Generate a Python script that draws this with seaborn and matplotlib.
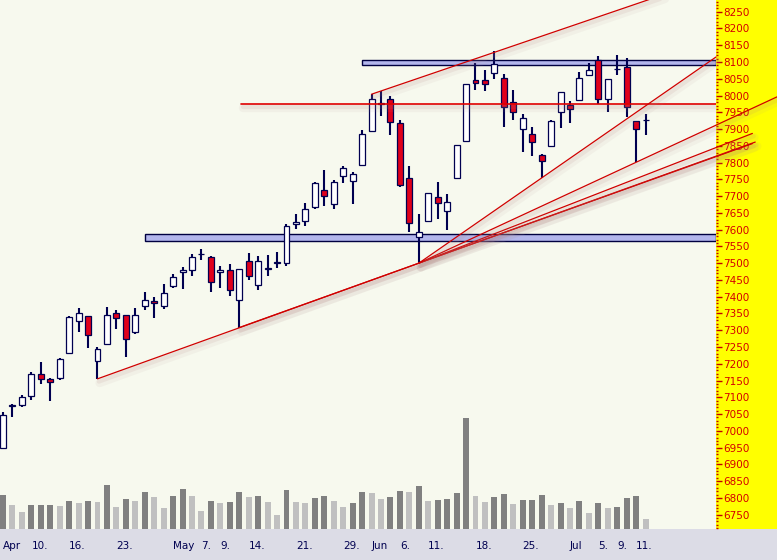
import numpy as np
import pandas as pd
import seaborn as sns
import matplotlib
import matplotlib.pyplot as plt
from matplotlib.patches import Rectangle
from matplotlib.ticker import MultipleLocator
from matplotlib import patheffects as pe

matplotlib.use('Agg')

# daily sessions, bar 0 = first session of April
opens = [6949, 7075, 7076, 7104, 7170, 7155, 7158, 7232, 7329, 7342,
         7208, 7258, 7351, 7345, 7295, 7372, 7387, 7372, 7432, 7474,
         7480, 7526, 7518, 7474, 7480, 7390, 7506, 7435, 7483, 7501,
         7501, 7617, 7626, 7667, 7718, 7676, 7760, 7745, 7793, 7894,
         7976, 7989, 7918, 7754, 7578, 7626, 7697, 7656, 7754, 7863,
         8046, 8046, 8067, 8052, 7980, 7900, 7885, 7822, 7849, 7951,
         7971, 7986, 8061, 8106, 7989, 8078, 8085, 7924, 7926]
highs = [7057, 7081, 7108, 7176, 7205, 7157, 7217, 7342, 7366, 7342,
         7250, 7369, 7360, 7345, 7366, 7415, 7399, 7438, 7467, 7489,
         7527, 7542, 7520, 7492, 7498, 7483, 7531, 7521, 7524, 7532,
         7617, 7647, 7679, 7742, 7779, 7748, 7790, 7772, 7897, 8004,
         8013, 7998, 7927, 7790, 7648, 7709, 7742, 7706, 7852, 8034,
         8097, 8076, 8132, 8064, 8016, 7945, 7906, 7826, 7927, 8010,
         7983, 8070, 8097, 8118, 8049, 8121, 8112, 7924, 7945]
lows = [6949, 7041, 7070, 7091, 7141, 7088, 7151, 7232, 7294, 7246,
        7155, 7256, 7304, 7220, 7288, 7360, 7337, 7363, 7426, 7423,
        7462, 7509, 7414, 7427, 7403, 7308, 7450, 7421, 7462, 7486,
        7492, 7602, 7611, 7662, 7670, 7662, 7739, 7678, 7793, 7891,
        7939, 7882, 7726, 7593, 7500, 7626, 7632, 7599, 7754, 7860,
        8016, 8013, 8049, 7906, 7927, 7831, 7820, 7754, 7849, 7903,
        7918, 7986, 8058, 7974, 7951, 8061, 7936, 7802, 7882]
closes = [7048, 7077, 7101, 7170, 7155, 7146, 7214, 7340, 7350, 7285,
          7244, 7345, 7337, 7274, 7345, 7390, 7381, 7411, 7459, 7480,
          7518, 7528, 7444, 7481, 7419, 7483, 7462, 7506, 7485, 7503,
          7611, 7623, 7662, 7739, 7700, 7742, 7784, 7766, 7885, 7989,
          7978, 7921, 7732, 7620, 7593, 7709, 7679, 7682, 7852, 8034,
          8037, 8034, 8094, 7966, 7951, 7933, 7861, 7805, 7924, 8010,
          7960, 8052, 8076, 7989, 8049, 8080, 7966, 7900, 7928]
volume = [34, 24, 17, 24, 24, 24, 23, 28, 26, 28,
          27, 44, 22, 30, 28, 37, 32, 21, 33, 40,
          33, 18, 28, 26, 27, 37, 32, 33, 27, 14,
          39, 27, 26, 31, 33, 28, 22, 26, 37, 36,
          30, 32, 38, 37, 43, 28, 29, 30, 36, 111,
          33, 27, 32, 35, 25, 29, 29, 34, 24, 26,
          21, 28, 16, 26, 21, 22, 31, 33, 10]

date_ticks = [0, 3, 7, 12, 18, 21, 23, 26, 31, 36, 39, 42, 45, 50, 55, 60, 63, 65, 67]
date_labels = ['Apr', '10.', '16.', '23.', 'May', '7.', '9.', '14.', '21.', '29.',
               'Jun', '6.', '11.', '18.', '25.', 'Jul', '5.', '9.', '11.']

# support / resistance zones: (from bar, low, high)
zones = [(15, 7567, 7587), (38, 8091, 8106)]
level = (25.2, 7975)
# trend lines: (bar a, price a, bar b, price b, end bar)
trend_lines = [
    (10, 7155, 44, 7500, 79.6),
    (25, 7308, 44, 7500, 79.3),
    (44, 7500, 79.3, 7887, 79.3),
    (44, 7500, 81.9, 7996, 81.9),
    (44, 7500, 75.45, 8115, 75.45),
    (39, 8004, 52, 8129, 70),
]

navy = '#000050'
x_right = 75.45

df = pd.DataFrame({'open': opens, 'high': highs, 'low': lows,
                   'close': closes, 'volume': volume})
df['bar'] = np.arange(len(df))
df['vol_dir'] = np.where(df['volume'].diff().fillna(1) >= 0, 'rise', 'fall')

sns.set_style('white')
plt.rcParams['font.family'] = ['DejaVu Sans']

fig = plt.figure(figsize=(7.77, 5.6), dpi=100, facecolor='#dcdce6')
fig.patches.append(Rectangle((716 / 777, 31.3 / 560), 61 / 777, 528.7 / 560,
                             transform=fig.transFigure, facecolor='#ffff00',
                             edgecolor='none', zorder=-1))
ax = fig.add_axes([0, 31.3 / 560, 716 / 777, 528.7 / 560])
ax.set_facecolor('#f7f9ee')
axv = ax.twinx()

# volume
sns.barplot(data=df, x='bar', y='volume', hue='vol_dir',
            palette={'rise': '#808080', 'fall': '#c0c0c0'},
            native_scale=True, width=0.63, dodge=False, legend=False,
            errorbar=None, saturation=1, linewidth=0, ax=axv)
axv.set_ylim(0, 528.7)
axv.set_yticks([])
axv.set_ylabel('')

# zones and lines
for start, lo, hi in zones:
    ax.add_patch(Rectangle((start, lo), x_right - start, hi - lo,
                           facecolor='#b3b6ec', edgecolor='#000040', lw=1, zorder=1.5))

# soft drop shadow under the drawn lines
shadow = [pe.SimpleLineShadow(offset=(1.5, -3), shadow_color='#b09090', alpha=0.08, linewidth=6),
          pe.SimpleLineShadow(offset=(1, -2), shadow_color='#b08080', alpha=0.12, linewidth=3),
          pe.Normal()]
ax.plot([level[0], x_right], [level[1], level[1]], color='#e00000', lw=1.2,
        zorder=4, path_effects=shadow)
for ka, pa, kb, pb, kend in trend_lines:
    slope = (pb - pa) / (kb - ka)
    ax.plot([ka, kend], [pa, pa + slope * (kend - ka)], color='#d00000', lw=0.9,
            zorder=4, clip_on=(kend == 70), path_effects=shadow)

# candles
body_lo = np.minimum(df['open'], df['close'])
body_h = np.maximum(np.abs(df['close'] - df['open']), 2)
colors = np.where(df['close'] >= df['open'], 'white', '#e0001b')
ax.vlines(df['bar'], df['low'], df['high'], color=navy, lw=1.5, zorder=3)
ax.bar(df['bar'], body_h, bottom=body_lo, width=0.63, color=colors,
       edgecolor=navy, linewidth=0.9, zorder=3.1)

ax.set_xlim(-0.317, x_right)
ax.set_ylim(6708, 8285)
ax.yaxis.tick_right()
ax.set_yticks(np.arange(6750, 8251, 50))
ax.yaxis.set_minor_locator(MultipleLocator(10))
ax.tick_params(axis='y', which='major', colors='#c00000', length=4, width=1,
               pad=1, labelsize=7.5, labelcolor='#d40000')
ax.tick_params(axis='y', which='minor', colors='#c00000', length=1.5, width=1)

ax.set_xticks(date_ticks)
ax.set_xticklabels(date_labels, ha='left')
ax.set_xticks(range(len(df)), minor=True)
ax.tick_params(axis='x', which='major', colors=navy, length=5, width=1,
               pad=4, labelsize=7.5, labelcolor=navy)
ax.tick_params(axis='x', which='minor', colors=navy, length=2, width=1)
ax.set_xlabel('')
ax.set_ylabel('')

for a in (ax, axv):
    for s in a.spines.values():
        s.set_visible(False)

fig.savefig('out.png', dpi=100, facecolor=fig.get_facecolor())
